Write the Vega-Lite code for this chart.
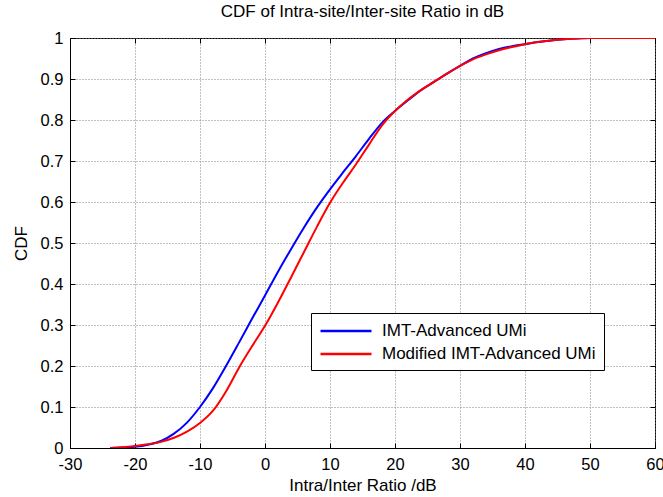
{
  "$schema": "https://vega.github.io/schema/vega-lite/v6.json",
  "autosize": "none",
  "width": 585,
  "height": 410,
  "padding": {"left": 70, "top": 38, "right": 8, "bottom": 49},
  "background": "white",
  "title": {"text": "CDF of Intra-site/Inter-site Ratio in dB", "font": "Liberation Sans", "fontSize": 17, "fontWeight": "normal", "color": "black", "offset": 9, "anchor": "middle"},
  "data": {"values": [
    {"series": "IMT-Advanced UMi", "x": -23.8, "y": 0},
    {"series": "IMT-Advanced UMi", "x": -22, "y": 0.001},
    {"series": "IMT-Advanced UMi", "x": -20, "y": 0.003},
    {"series": "IMT-Advanced UMi", "x": -18, "y": 0.008},
    {"series": "IMT-Advanced UMi", "x": -16, "y": 0.017},
    {"series": "IMT-Advanced UMi", "x": -14, "y": 0.035},
    {"series": "IMT-Advanced UMi", "x": -12, "y": 0.062},
    {"series": "IMT-Advanced UMi", "x": -10, "y": 0.1},
    {"series": "IMT-Advanced UMi", "x": -8, "y": 0.146},
    {"series": "IMT-Advanced UMi", "x": -6, "y": 0.2},
    {"series": "IMT-Advanced UMi", "x": -4, "y": 0.257},
    {"series": "IMT-Advanced UMi", "x": -2, "y": 0.315},
    {"series": "IMT-Advanced UMi", "x": 0, "y": 0.372},
    {"series": "IMT-Advanced UMi", "x": 2, "y": 0.43},
    {"series": "IMT-Advanced UMi", "x": 4, "y": 0.485},
    {"series": "IMT-Advanced UMi", "x": 6, "y": 0.538},
    {"series": "IMT-Advanced UMi", "x": 8, "y": 0.587},
    {"series": "IMT-Advanced UMi", "x": 10, "y": 0.631},
    {"series": "IMT-Advanced UMi", "x": 12, "y": 0.672},
    {"series": "IMT-Advanced UMi", "x": 14, "y": 0.712},
    {"series": "IMT-Advanced UMi", "x": 16, "y": 0.754},
    {"series": "IMT-Advanced UMi", "x": 18, "y": 0.793},
    {"series": "IMT-Advanced UMi", "x": 20, "y": 0.822},
    {"series": "IMT-Advanced UMi", "x": 22, "y": 0.848},
    {"series": "IMT-Advanced UMi", "x": 24, "y": 0.873},
    {"series": "IMT-Advanced UMi", "x": 26, "y": 0.893},
    {"series": "IMT-Advanced UMi", "x": 28, "y": 0.913},
    {"series": "IMT-Advanced UMi", "x": 30, "y": 0.932},
    {"series": "IMT-Advanced UMi", "x": 32, "y": 0.95},
    {"series": "IMT-Advanced UMi", "x": 34, "y": 0.963},
    {"series": "IMT-Advanced UMi", "x": 36, "y": 0.973},
    {"series": "IMT-Advanced UMi", "x": 38, "y": 0.98},
    {"series": "IMT-Advanced UMi", "x": 40, "y": 0.985},
    {"series": "IMT-Advanced UMi", "x": 42, "y": 0.99},
    {"series": "IMT-Advanced UMi", "x": 44, "y": 0.994},
    {"series": "IMT-Advanced UMi", "x": 46, "y": 0.997},
    {"series": "IMT-Advanced UMi", "x": 48, "y": 0.999},
    {"series": "IMT-Advanced UMi", "x": 50, "y": 1},
    {"series": "IMT-Advanced UMi", "x": 60, "y": 1},
    {"series": "Modified IMT-Advanced UMi", "x": -23.8, "y": 0},
    {"series": "Modified IMT-Advanced UMi", "x": -22, "y": 0.002},
    {"series": "Modified IMT-Advanced UMi", "x": -20, "y": 0.005},
    {"series": "Modified IMT-Advanced UMi", "x": -18, "y": 0.009},
    {"series": "Modified IMT-Advanced UMi", "x": -16, "y": 0.015},
    {"series": "Modified IMT-Advanced UMi", "x": -14, "y": 0.025},
    {"series": "Modified IMT-Advanced UMi", "x": -12, "y": 0.04},
    {"series": "Modified IMT-Advanced UMi", "x": -10, "y": 0.061},
    {"series": "Modified IMT-Advanced UMi", "x": -8, "y": 0.091},
    {"series": "Modified IMT-Advanced UMi", "x": -6, "y": 0.138},
    {"series": "Modified IMT-Advanced UMi", "x": -4, "y": 0.196},
    {"series": "Modified IMT-Advanced UMi", "x": -2, "y": 0.248},
    {"series": "Modified IMT-Advanced UMi", "x": 0, "y": 0.298},
    {"series": "Modified IMT-Advanced UMi", "x": 2, "y": 0.355},
    {"series": "Modified IMT-Advanced UMi", "x": 4, "y": 0.416},
    {"series": "Modified IMT-Advanced UMi", "x": 6, "y": 0.478},
    {"series": "Modified IMT-Advanced UMi", "x": 8, "y": 0.54},
    {"series": "Modified IMT-Advanced UMi", "x": 10, "y": 0.598},
    {"series": "Modified IMT-Advanced UMi", "x": 12, "y": 0.647},
    {"series": "Modified IMT-Advanced UMi", "x": 14, "y": 0.692},
    {"series": "Modified IMT-Advanced UMi", "x": 16, "y": 0.74},
    {"series": "Modified IMT-Advanced UMi", "x": 18, "y": 0.787},
    {"series": "Modified IMT-Advanced UMi", "x": 20, "y": 0.822},
    {"series": "Modified IMT-Advanced UMi", "x": 22, "y": 0.85},
    {"series": "Modified IMT-Advanced UMi", "x": 24, "y": 0.873},
    {"series": "Modified IMT-Advanced UMi", "x": 26, "y": 0.893},
    {"series": "Modified IMT-Advanced UMi", "x": 28, "y": 0.913},
    {"series": "Modified IMT-Advanced UMi", "x": 30, "y": 0.932},
    {"series": "Modified IMT-Advanced UMi", "x": 32, "y": 0.948},
    {"series": "Modified IMT-Advanced UMi", "x": 34, "y": 0.96},
    {"series": "Modified IMT-Advanced UMi", "x": 36, "y": 0.97},
    {"series": "Modified IMT-Advanced UMi", "x": 38, "y": 0.978},
    {"series": "Modified IMT-Advanced UMi", "x": 40, "y": 0.985},
    {"series": "Modified IMT-Advanced UMi", "x": 42, "y": 0.99},
    {"series": "Modified IMT-Advanced UMi", "x": 44, "y": 0.994},
    {"series": "Modified IMT-Advanced UMi", "x": 46, "y": 0.997},
    {"series": "Modified IMT-Advanced UMi", "x": 48, "y": 0.999},
    {"series": "Modified IMT-Advanced UMi", "x": 50, "y": 1},
    {"series": "Modified IMT-Advanced UMi", "x": 60, "y": 1}
  ]},
  "layer": [
    {
      "mark": {"type": "line", "strokeWidth": 2, "interpolate": "monotone", "clip": true},
      "encoding": {
        "x": {"field": "x", "type": "quantitative", "scale": {"domain": [-30, 60], "nice": false},
          "axis": {"title": "Intra/Inter Ratio /dB", "values": [-30, -20, -10, 0, 10, 20, 30, 40, 50, 60], "labelExpr": "'' + datum.value", "labelPadding": 13, "titlePadding": 5}},
        "y": {"field": "y", "type": "quantitative", "scale": {"domain": [0, 1], "nice": false},
          "axis": {"title": "CDF", "values": [0, 0.1, 0.2, 0.3, 0.4, 0.5, 0.6, 0.7, 0.8, 0.9, 1], "format": "~g", "labelPadding": 12, "titlePadding": 10}},
        "color": {"field": "series", "type": "nominal",
          "scale": {"domain": ["IMT-Advanced UMi", "Modified IMT-Advanced UMi"], "range": ["#0000ff", "#ff0000"]},
          "legend": {"title": null, "orient": "none", "legendX": 241, "legendY": 275, "symbolType": "M-1,0H5", "symbolSize": 289, "symbolStrokeWidth": 2.5,
            "labelFont": "Liberation Sans", "labelFontSize": 17, "labelColor": "black", "strokeColor": "black", "fillColor": "white", "padding": 8, "rowPadding": 5, "labelOffset": 43, "labelLimit": 400}}
      }
    },
    {
      "mark": {"type": "line", "opacity": 0},
      "encoding": {
        "x": {"field": "x", "type": "quantitative", "scale": {"domain": [-30, 60], "nice": false},
          "axis": {"orient": "top", "title": null, "labels": false, "grid": false, "domain": false, "values": [-30, -20, -10, 0, 10, 20, 30, 40, 50, 60]}},
        "y": {"field": "y", "type": "quantitative", "scale": {"domain": [0, 1], "nice": false},
          "axis": {"orient": "right", "title": null, "labels": false, "grid": false, "domain": false, "values": [0, 0.1, 0.2, 0.3, 0.4, 0.5, 0.6, 0.7, 0.8, 0.9, 1]}},
        "detail": {"field": "series", "type": "nominal"}
      }
    }
  ],
  "resolve": {"axis": {"x": "independent", "y": "independent"}},
  "config": {
    "view": {"stroke": "black", "strokeWidth": 1},
    "axis": {"domainColor": "black", "tickColor": "black", "tickSize": -5, "labelFlush": false, "labelOverlap": false, "labelFont": "Liberation Sans", "labelFontSize": 16.5, "labelColor": "black",
      "titleFont": "Liberation Sans", "titleFontSize": 17, "titleFontWeight": "normal", "titleColor": "black",
      "grid": true, "gridColor": "#808080", "gridDash": [1, 2], "gridOpacity": 1}
  }
}
